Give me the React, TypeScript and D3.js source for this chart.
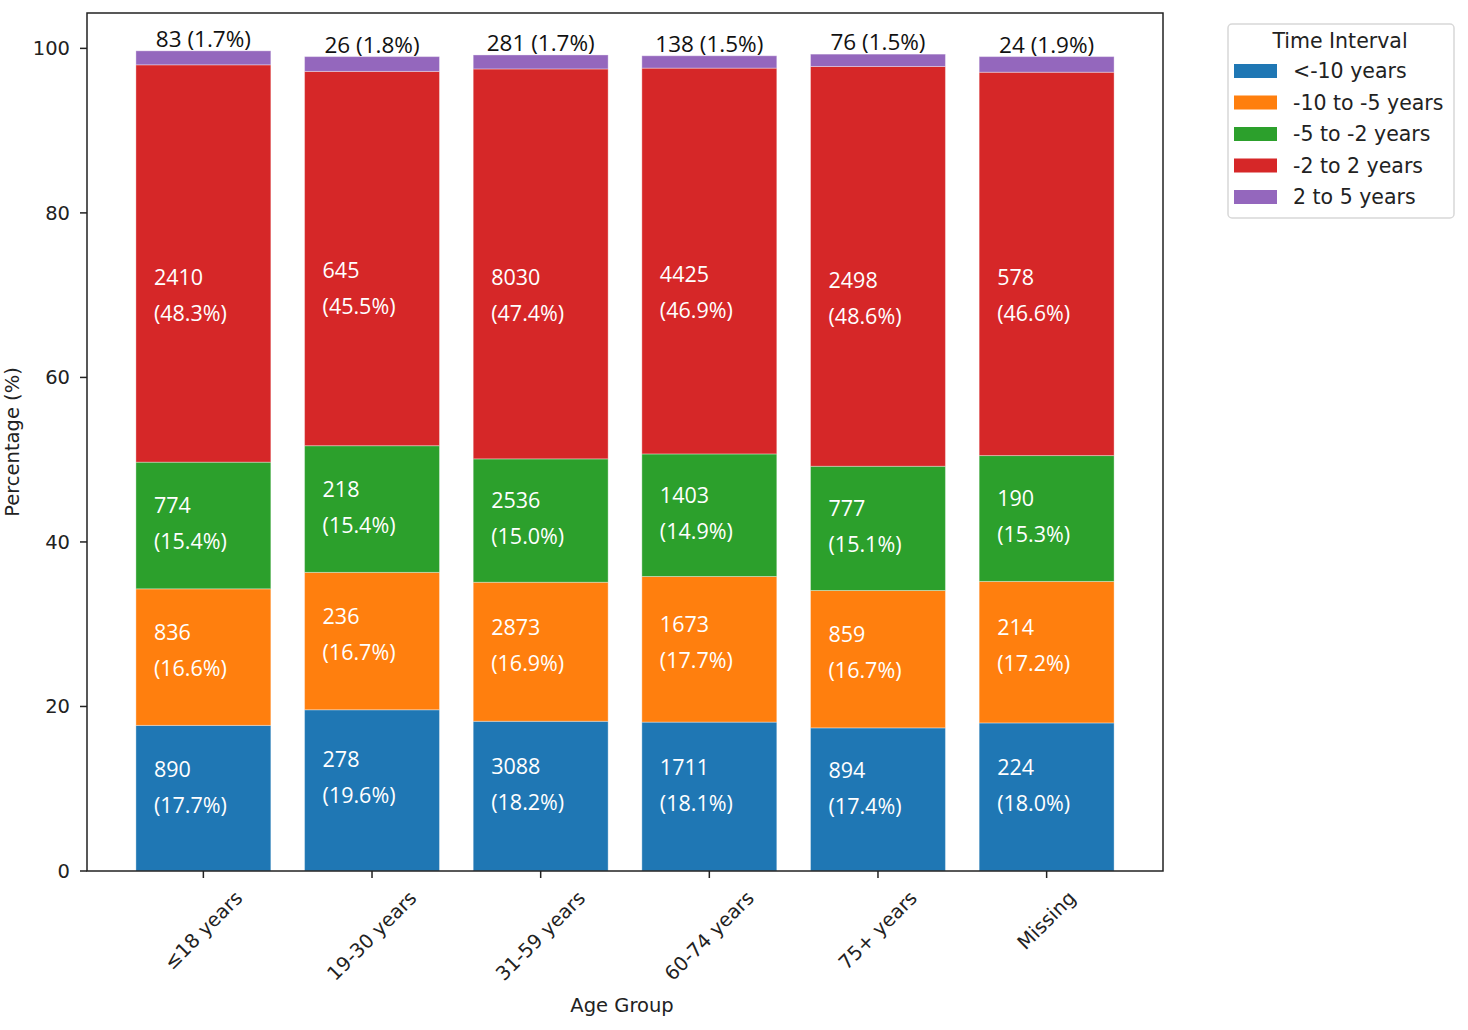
import { useEffect, useRef } from 'react'
import * as d3 from 'd3'

const categories = ['≤18 years', '19-30 years', '31-59 years', '60-74 years', '75+ years', 'Missing']
const seriesNames = ['<-10 years', '-10 to -5 years', '-5 to -2 years', '-2 to 2 years', '2 to 5 years']
const seriesColors = ['#1f77b4', '#ff7f0e', '#2ca02c', '#d62728', '#9467bd']

// counts per series, in category order
const countsLt10 = [890, 278, 3088, 1711, 894, 224]
const counts10to5 = [836, 236, 2873, 1673, 859, 214]
const counts5to2 = [774, 218, 2536, 1403, 777, 190]
const counts2to2 = [2410, 645, 8030, 4425, 2498, 578]
const counts2to5 = [83, 26, 281, 138, 76, 24]

// percentages per series
const pctLt10 = [17.7, 19.6, 18.2, 18.1, 17.4, 18.0]
const pct10to5 = [16.6, 16.7, 16.9, 17.7, 16.7, 17.2]
const pct5to2 = [15.4, 15.4, 15.0, 14.9, 15.1, 15.3]
const pct2to2 = [48.3, 45.5, 47.4, 46.9, 48.6, 46.6]
const pct2to5 = [1.7, 1.8, 1.7, 1.5, 1.5, 1.9]

const yTicks = [0, 20, 40, 60, 80, 100]

const W = 1468
const H = 1030
const AXIS_FONT = 'DejaVu Sans, sans-serif'
const LABEL_FONT = 'Open Sans, Noto Sans, sans-serif'
// where inside each segment the label block sits (fraction of segment height from its bottom)
const labelAnchor = [0.58, 0.55, 0.52, 0.42]

export default function App() {
  const svgRef = useRef<SVGSVGElement>(null)

  useEffect(() => {
    if (!svgRef.current) return
    const svg = d3.select(svgRef.current)
    svg.selectAll('*').remove()

    const m = { left: 87, right: 1163, top: 13, bottom: 871 }
    const counts = [countsLt10, counts10to5, counts5to2, counts2to2, counts2to5]
    const pcts = [pctLt10, pct10to5, pct5to2, pct2to2, pct2to5]

    const x = d3.scaleLinear().domain([-0.69, categories.length - 1 + 0.69]).range([m.left, m.right])
    const y = d3.scaleLinear().domain([0, 104.3]).range([m.bottom, m.top])
    const step = x(1) - x(0)
    const barW = step * 0.8

    const rows = categories.map((c, i) => {
      const r: any = { cat: c, idx: i }
      seriesNames.forEach((s, j) => { r[s] = pcts[j][i] })
      return r
    })
    const stacked = d3.stack<any>().keys(seriesNames)(rows)

    stacked.forEach((layer, j) => {
      svg.append('g')
        .selectAll('rect')
        .data(layer)
        .join('rect')
        .attr('x', (d, i) => x(i) - barW / 2)
        .attr('width', barW)
        .attr('y', d => y(d[1]))
        .attr('height', d => y(d[0]) - y(d[1]))
        .attr('fill', seriesColors[j])
        .attr('stroke', 'rgba(255,255,255,0.35)')
        .attr('stroke-width', 1)

      if (j < seriesNames.length - 1) {
        // two-line white labels inside the segment
        layer.forEach((d, i) => {
          const cy = y(d[0] + (d[1] - d[0]) * labelAnchor[j])
          const lx = x(i) - barW / 2 + 18
          const t = svg.append('text')
            .attr('x', lx)
            .attr('y', cy)
            .style('fill', '#fff')
            .style('font-size', '21.5px')
            .style('font-family', LABEL_FONT)
          t.append('tspan').attr('x', lx).attr('dy', -10).text(counts[j][i])
          t.append('tspan').attr('x', lx).attr('dy', 36).text(`(${pcts[j][i].toFixed(1)}%)`)
        })
      } else {
        layer.forEach((d, i) => {
          svg.append('text')
            .attr('x', x(i))
            .attr('y', y(d[1]) - 4)
            .attr('text-anchor', 'middle')
            .style('fill', '#111')
            .style('font-size', '22.5px')
            .style('font-family', LABEL_FONT)
            .text(`${counts[j][i]} (${pcts[j][i].toFixed(1)}%)`)
        })
      }
    })

    // frame
    svg.append('rect')
      .attr('x', m.left).attr('y', m.top)
      .attr('width', m.right - m.left).attr('height', m.bottom - m.top)
      .attr('fill', 'none').attr('stroke', '#222').attr('stroke-width', 1.5)

    // y ticks
    yTicks.forEach(t => {
      svg.append('line')
        .attr('x1', m.left - 7).attr('x2', m.left)
        .attr('y1', y(t)).attr('y2', y(t))
        .attr('stroke', '#222').attr('stroke-width', 1.5)
      svg.append('text')
        .attr('x', m.left - 17).attr('y', y(t))
        .attr('dy', '0.36em')
        .attr('text-anchor', 'end')
        .style('fill', '#222').style('font-size', '19.5px').style('font-family', AXIS_FONT)
        .text(t)
    })

    // x ticks with rotated labels
    categories.forEach((c, i) => {
      svg.append('line')
        .attr('x1', x(i)).attr('x2', x(i))
        .attr('y1', m.bottom).attr('y2', m.bottom + 7)
        .attr('stroke', '#222').attr('stroke-width', 1.5)
      const t = svg.append('text')
        .attr('text-anchor', 'middle')
        .attr('dy', '0.33em')
        .style('fill', '#222').style('font-size', '19.5px').style('font-family', AXIS_FONT)
        .text(c)
      const w = (t.node() as SVGTextElement).getComputedTextLength()
      const half = ((w + 19) * Math.SQRT1_2) / 2
      t.attr('transform', `translate(${x(i)},${m.bottom + 17 + half}) rotate(-45)`)
    })

    // axis titles
    svg.append('text')
      .attr('x', 622).attr('y', 1012)
      .attr('text-anchor', 'middle')
      .style('fill', '#222').style('font-size', '19.5px').style('font-family', AXIS_FONT)
      .text('Age Group')
    svg.append('text')
      .attr('transform', `translate(19,442) rotate(-90)`)
      .attr('text-anchor', 'middle')
      .style('fill', '#222').style('font-size', '19.5px').style('font-family', AXIS_FONT)
      .text('Percentage (%)')

    // legend
    const lg = svg.append('g').attr('transform', 'translate(1228,24)')
    lg.append('rect')
      .attr('width', 226).attr('height', 194).attr('rx', 4)
      .attr('fill', '#fff').attr('stroke', '#d8d8d8').attr('stroke-width', 1.5)
    lg.append('text')
      .attr('x', 112).attr('y', 17).attr('dy', '0.36em')
      .attr('text-anchor', 'middle')
      .style('fill', '#222').style('font-size', '20.5px').style('font-family', AXIS_FONT)
      .text('Time Interval')
    seriesNames.forEach((s, j) => {
      const ry = 47 + j * 31.5
      lg.append('rect')
        .attr('x', 6).attr('y', ry - 7).attr('width', 43).attr('height', 14)
        .attr('fill', seriesColors[j])
      lg.append('text')
        .attr('x', 65).attr('y', ry).attr('dy', '0.36em')
        .style('fill', '#222').style('font-size', '20.5px').style('font-family', AXIS_FONT)
        .text(s)
    })
  }, [])

  return (
    <svg
      ref={svgRef}
      width={W}
      height={H}
      style={{ position: 'absolute', left: 0, top: 0, background: '#fff' }}
    />
  )
}
